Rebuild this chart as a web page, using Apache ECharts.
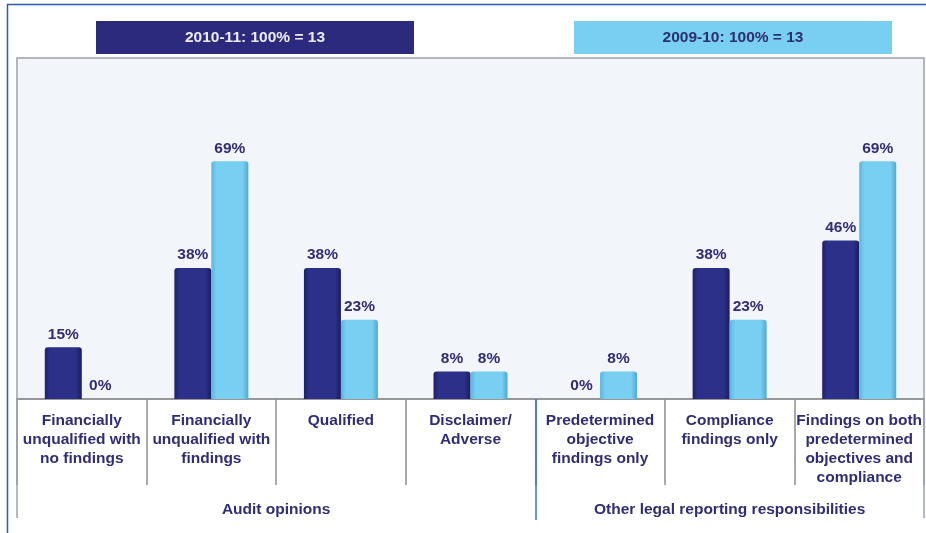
<!DOCTYPE html>
<html>
<head>
<meta charset="utf-8">
<title>Audit outcomes</title>
<script src="https://cdn.jsdelivr.net/npm/echarts@6/dist/echarts.min.js"></script>
<style>
  html, body { margin: 0; padding: 0; background: #ffffff; }
  #chart { width: 926px; height: 533px; }
</style>
</head>
<body>
<div id="chart"></div>
<script>
// Outcome categories (line breaks as set in the axis labels)
const categories = [
  'Financially\nunqualified with\nno findings',
  'Financially\nunqualified with\nfindings',
  'Qualified',
  'Disclaimer/\nAdverse',
  'Predetermined\nobjective\nfindings only',
  'Compliance\nfindings only',
  'Findings on both\npredetermined\nobjectives and\ncompliance'
];

// Share of auditees per outcome, in percent
const values2011 = [15, 38, 38, 8, 0, 38, 46];
const values2010 = [0, 69, 23, 8, 8, 23, 69];

const seriesNames = ['2010-11: 100% = 13', '2009-10: 100% = 13'];

// Category groups drawn beneath the outcome labels
const groupNames = ['Audit opinions', 'Other legal reporting responsibilities'];
const groupSizes = [4, 3];

const total = groupSizes.reduce((a, b) => a + b, 0);
const groupCenters = [];
const groupEdges = [];
let acc = 0;
groupSizes.forEach((n, i) => {
  groupCenters.push(acc + n / 2);
  acc += n;
  if (i < groupSizes.length - 1) groupEdges.push(acc);
});

const navyText = '#302d75';
const font = '"Liberation Sans", Arial, sans-serif';

function barFill(edge, body, edge2) {
  return new echarts.graphic.LinearGradient(0, 0, 1, 0, [
    { offset: 0, color: edge },
    { offset: 0.14, color: body },
    { offset: 0.84, color: body },
    { offset: 1, color: edge2 }
  ]);
}

const chart = echarts.init(document.getElementById('chart'), null, { renderer: 'canvas' });

const valueLabel = {
  show: true,
  position: 'top',
  distance: 5,
  formatter: '{c}%',
  color: navyText,
  fontFamily: font,
  fontWeight: 'bold',
  fontSize: 15.5
};

chart.setOption({
  animation: false,
  backgroundColor: '#ffffff',
  textStyle: { fontFamily: font },
  graphic: [{
    type: 'rect',
    silent: true,
    z: -10,
    shape: { x: 7.5, y: 4.5, width: 1200, height: 1200 },
    style: { fill: 'none', stroke: '#2a5ca8', lineWidth: 1.5 }
  }],
  legend: {
    left: 86,
    top: 16,
    itemWidth: 0,
    itemHeight: 0,
    itemGap: 155,
    selectedMode: false,
    data: seriesNames,
    formatter: function (name) {
      return (name === seriesNames[0] ? '{d|' : '{l|') + name + '}';
    },
    textStyle: {
      rich: {
        d: {
          width: 318, height: 33, lineHeight: 33, align: 'center',
          backgroundColor: '#2b2a7c', color: '#ecebf6',
          fontFamily: font, fontWeight: 'bold', fontSize: 15.5
        },
        l: {
          width: 318, height: 33, lineHeight: 33, align: 'center',
          backgroundColor: '#79cff1', color: '#2c2f6e',
          fontFamily: font, fontWeight: 'bold', fontSize: 15.5
        }
      }
    }
  },
  grid: {
    left: 17,
    right: 2,
    top: 58,
    bottom: 134,
    show: true,
    backgroundColor: '#f2f5f9',
    borderColor: '#9aa3b0',
    borderWidth: 1.5
  },
  xAxis: [
    {
      type: 'category',
      data: categories,
      axisLine: { lineStyle: { color: '#8d8d8d', width: 1.5 } },
      axisTick: { show: true, length: 86, lineStyle: { color: '#8d8d8d', width: 1.5 } },
      axisLabel: {
        interval: 0,
        margin: 12,
        color: navyText,
        fontFamily: font,
        fontWeight: 'bold',
        fontSize: 15.5,
        lineHeight: 19
      },
      splitLine: { show: false }
    },
    {
      type: 'value',
      min: 0,
      max: total,
      position: 'bottom',
      axisLine: { show: false },
      splitLine: { show: false },
      axisTick: {
        show: true,
        customValues: [0, total],
        length: 119,
        lineStyle: { color: '#9aa3b0', width: 1.5 }
      },
      axisLabel: {
        show: true,
        customValues: groupCenters,
        margin: 103,
        color: navyText,
        fontFamily: font,
        fontWeight: 'bold',
        fontSize: 15.5,
        formatter: function (v) {
          const i = groupCenters.indexOf(v);
          return i >= 0 ? groupNames[i] : '';
        }
      }
    },
    {
      type: 'value',
      min: 0,
      max: total,
      interval: groupEdges[0],
      position: 'bottom',
      axisLine: { show: false },
      axisLabel: { show: false },
      axisTick: {
        show: true,
        customValues: groupEdges,
        length: 121,
        lineStyle: { color: '#3f72bb', width: 1.5 }
      },
      splitLine: {
        show: true,
        showMinLine: false,
        showMaxLine: false,
        lineStyle: { color: '#3f72bb', width: 1.5 }
      }
    }
  ],
  yAxis: {
    type: 'value',
    min: 0,
    max: 99,
    show: false,
    splitLine: { show: false }
  },
  series: [
    {
      name: seriesNames[0],
      type: 'bar',
      data: values2011,
      barWidth: 37,
      barGap: 0,
      itemStyle: {
        color: barFill('#1f216b', '#2c3088', '#1b1d5e'),
        borderRadius: [3, 3, 0, 0]
      },
      label: valueLabel
    },
    {
      name: seriesNames[1],
      type: 'bar',
      data: values2010,
      barWidth: 37,
      barGap: 0,
      itemStyle: {
        color: barFill('#58b6df', '#79cff1', '#4fa9d3'),
        borderRadius: [3, 3, 0, 0]
      },
      label: valueLabel
    }
  ]
});
</script>
</body>
</html>
